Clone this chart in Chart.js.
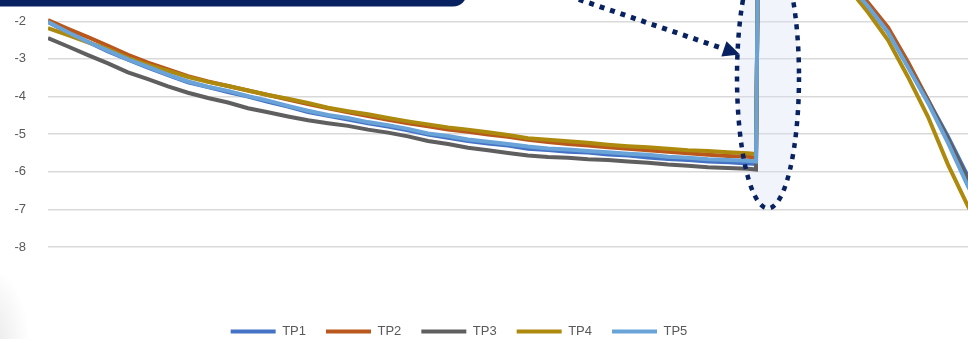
<!DOCTYPE html>
<html>
<head>
<meta charset="utf-8">
<script src="https://cdn.jsdelivr.net/npm/chart.js@4.4.0/dist/chart.umd.min.js"></script>
<style>
  html, body { margin: 0; padding: 0; background: #fff; overflow: hidden; width: 968px; height: 339px; }
  #wrap { position: absolute; left: -100px; top: -159px; width: 1118px; height: 507px; }
  #shade { position: absolute; left: 0; top: 0; width: 968px; height: 339px; pointer-events: none;
    background: radial-gradient(ellipse 45px 80px at -15px 345px, rgba(0,0,0,0.10), rgba(0,0,0,0)); }
</style>
</head>
<body>
<div id="wrap"><canvas id="chart"></canvas></div>
<div id="shade"></div>
<script>
// x positions (test time) and the five curves
const xValues = [0, 2, 4, 6, 8, 10, 12, 14, 16, 18, 20, 22, 24, 26, 28, 30, 32, 34, 36, 38,
  40, 42, 44, 46, 48, 50, 52, 54, 56, 58, 60, 62, 64, 66, 68, 70, 70.8,
  71, 74, 77, 80, 82, 84, 86, 88, 90, 92, 94, 96]

const tp1 = [-2.02, -2.30, -2.55, -2.80, -3.02, -3.23, -3.43, -3.62, -3.75, -3.88, -4.00, -4.14, -4.27, -4.41, -4.51, -4.61, -4.71, -4.80, -4.90, -5.01,
  -5.10, -5.18, -5.25, -5.30, -5.39, -5.42, -5.47, -5.49, -5.54, -5.57, -5.62, -5.66, -5.69, -5.73, -5.75, -5.78, -5.79,
  -0.15, 0.25, -0.25, -0.95, -1.58, -2.26, -3.16, -4.09, -5.07, -6.13, -7.10, -8.10]
const tp2 = [-1.97, -2.20, -2.42, -2.65, -2.89, -3.10, -3.28, -3.46, -3.60, -3.72, -3.84, -3.96, -4.08, -4.20, -4.31, -4.42, -4.52, -4.62, -4.71, -4.79,
  -4.88, -4.94, -5.01, -5.07, -5.15, -5.21, -5.26, -5.30, -5.35, -5.39, -5.43, -5.47, -5.51, -5.55, -5.58, -5.60, -5.63,
  -0.10, 0.30, -0.20, -0.95, -1.50, -2.16, -3.08, -4.09, -5.18, -6.29, -7.30, -8.30]
const tp3 = [-2.45, -2.67, -2.90, -3.12, -3.36, -3.54, -3.73, -3.90, -4.04, -4.16, -4.31, -4.42, -4.53, -4.63, -4.71, -4.78, -4.88, -4.96, -5.06, -5.18,
  -5.26, -5.36, -5.43, -5.50, -5.57, -5.61, -5.63, -5.67, -5.69, -5.73, -5.76, -5.81, -5.84, -5.88, -5.90, -5.92, -5.94,
  -0.20, 0.20, -0.30, -1.00, -1.60, -2.29, -3.19, -4.12, -5.12, -6.21, -7.20, -8.20]
const tp4 = [-2.18, -2.37, -2.56, -2.74, -2.98, -3.16, -3.32, -3.48, -3.61, -3.72, -3.84, -3.96, -4.06, -4.17, -4.30, -4.39, -4.47, -4.57, -4.66, -4.74,
  -4.82, -4.88, -4.95, -5.02, -5.11, -5.15, -5.19, -5.23, -5.28, -5.32, -5.35, -5.39, -5.43, -5.45, -5.48, -5.51, -5.53,
  -0.30, 0.10, -0.40, -1.10, -1.76, -2.50, -3.48, -4.54, -5.81, -6.92, -7.85, -8.77]
const tp5 = [-2.01, -2.29, -2.55, -2.78, -3.01, -3.21, -3.42, -3.60, -3.74, -3.85, -3.99, -4.11, -4.25, -4.38, -4.49, -4.57, -4.68, -4.76, -4.86, -4.98,
  -5.05, -5.14, -5.20, -5.26, -5.33, -5.38, -5.41, -5.45, -5.48, -5.52, -5.55, -5.60, -5.63, -5.67, -5.69, -5.71, -5.73,
  -0.20, 0.20, -0.30, -1.00, -1.60, -2.29, -3.22, -4.17, -5.23, -6.39, -7.37, -8.38]

const seriesNames = ['TP1', 'TP2', 'TP3', 'TP4', 'TP5']
const seriesColors = ['#4472C4', '#B9571C', '#5F5F5F', '#AD8A0E', '#6AA3D8']
const yMin = -8
const yMax = 2

const FONT = "'Liberation Sans', Arial, sans-serif"
const NAVY = '#082161'

let chartCanvas = document.getElementById('chart').getContext('2d')

// callout: navy box edge, dotted arrow and dotted ellipse round the jump
const calloutPlugin = {
    id: 'callout',
    beforeDatasetsDraw(chart) {
        const {ctx, scales: {x, y}} = chart
        const l = x.getPixelForValue(68.9), r = x.getPixelForValue(75.1)
        const t = y.getPixelForValue(0.0), b = y.getPixelForValue(-6.97)
        ctx.save()
        ctx.beginPath()
        ctx.ellipse((l + r) / 2, (t + b) / 2, (r - l) / 2, (b - t) / 2, 0, 0, Math.PI * 2)
        ctx.fillStyle = 'rgba(214, 224, 240, 0.35)'
        ctx.fill()
        ctx.restore()
    },
    afterDatasetsDraw(chart) {
        const {ctx, scales: {x, y}} = chart
        ctx.save()
        // ellipse outline
        const l = x.getPixelForValue(68.9), r = x.getPixelForValue(75.1)
        const t = y.getPixelForValue(0.0), b = y.getPixelForValue(-6.97)
        ctx.beginPath()
        ctx.ellipse((l + r) / 2, (t + b) / 2, (r - l) / 2, (b - t) / 2, 0, 0, Math.PI * 2)
        ctx.strokeStyle = NAVY
        ctx.lineWidth = 4.5
        ctx.setLineDash([5, 6])
        ctx.stroke()

        // arrow
        const sx = x.getPixelForValue(51.0), sy = y.getPixelForValue(-1.23)
        const tx = x.getPixelForValue(69.2), ty = y.getPixelForValue(-2.88)
        const ang = Math.atan2(ty - sy, tx - sx)
        const headLen = 17, headHalf = 8
        const bx = tx - headLen * Math.cos(ang), by = ty - headLen * Math.sin(ang)
        ctx.lineWidth = 5
        ctx.setLineDash([5, 6])
        ctx.beginPath()
        ctx.moveTo(sx, sy)
        ctx.lineTo(bx, by)
        ctx.stroke()
        ctx.setLineDash([])
        ctx.fillStyle = NAVY
        ctx.beginPath()
        ctx.moveTo(tx, ty)
        ctx.lineTo(bx + headHalf * Math.sin(ang), by - headHalf * Math.cos(ang))
        ctx.lineTo(bx - headHalf * Math.sin(ang), by + headHalf * Math.cos(ang))
        ctx.closePath()
        ctx.fill()

        // bottom of the text box above the chart
        const br = x.getPixelForValue(41.9), bb = y.getPixelForValue(-1.61)
        ctx.beginPath()
        ctx.roundRect(0, 0, br, bb, [0, 0, 14, 0])
        ctx.fill()
        ctx.restore()
    }
}

const seriesData = [tp1, tp2, tp3, tp4, tp5]
const datasets = seriesNames.map((name, i) => ({
    label: name,
    data: xValues.map((xv, j) => ({x: xv, y: seriesData[i][j]})),
    borderColor: seriesColors[i],
    backgroundColor: seriesColors[i],
    borderWidth: 4,
    pointRadius: 0,
    tension: 0,
    fill: false,
    order: seriesNames.length - i   // TP5 painted on top
}))

let myChart = new Chart(chartCanvas, {
    type: 'line',
    data: {datasets: datasets},
    options: {
        responsive: true,
        maintainAspectRatio: false,
        animation: false,
        layout: {padding: {top: 20, left: 0, right: 0, bottom: 0}},
        scales: {
            x: {
                type: 'linear',
                min: 0,
                max: 97,
                grid: {display: false},
                border: {display: false},
                ticks: {display: false},
                afterFit: function(scale) { scale.height = 58 }
            },
            y: {
                min: yMin,
                max: yMax,
                ticks: {stepSize: 1, color: '#595959', padding: 22, font: {family: FONT, size: 13}},
                grid: {color: '#d9d9d9', lineWidth: 1.5, drawTicks: false},
                border: {display: false},
                afterFit: function(scale) { scale.width = 148 }
            }
        },
        plugins: {
            legend: {
                position: 'bottom',
                labels: {
                    boxWidth: 45,
                    boxHeight: 4,
                    padding: 20,
                    color: '#595959',
                    font: {family: FONT, size: 13},
                    generateLabels: function(chart) {
                        const items = Chart.defaults.plugins.legend.labels.generateLabels(chart)
                        items.forEach(it => { it.lineWidth = 0 })
                        return items.sort((a, b) => a.datasetIndex - b.datasetIndex)
                    }
                }
            },
            tooltip: {enabled: false}
        }
    },
    plugins: [calloutPlugin]
})
</script>
</body>
</html>
